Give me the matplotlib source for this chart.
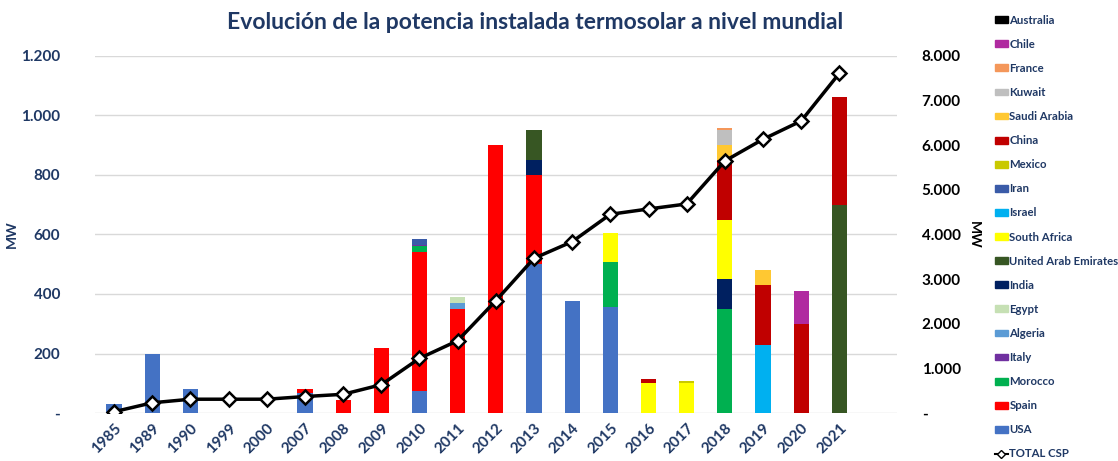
import matplotlib.pyplot as plt
import numpy as np
from matplotlib.patches import Patch
from matplotlib.lines import Line2D
from matplotlib.ticker import FuncFormatter

plt.rcParams['font.family'] = ['Lato', 'DejaVu Sans']
plt.rcParams['font.weight'] = 'bold'

years = ['1985', '1989', '1990', '1999', '2000', '2007', '2008', '2009', '2010', '2011',
         '2012', '2013', '2014', '2015', '2016', '2017', '2018', '2019', '2020', '2021']

# stacked from bottom to top (MW added per year)
usa          = [30, 200, 80, 0, 0, 66, 0, 0, 75, 0, 0, 500, 375, 356, 0, 0, 0, 0, 0, 0]
spain        = [0, 0, 0, 0, 0, 14, 45, 220, 466, 350, 900, 300, 0, 0, 0, 0, 0, 0, 0, 0]
morocco      = [0, 0, 0, 0, 0, 0, 0, 0, 20, 0, 0, 0, 0, 150, 0, 0, 350, 0, 0, 0]
italy        = [0, 0, 0, 0, 0, 0, 0, 0, 5, 0, 0, 0, 0, 0, 0, 0, 0, 0, 0, 0]
algeria      = [0, 0, 0, 0, 0, 0, 0, 0, 0, 20, 0, 0, 0, 0, 0, 0, 0, 0, 0, 0]
egypt        = [0, 0, 0, 0, 0, 0, 0, 0, 0, 20, 0, 0, 0, 0, 0, 0, 0, 0, 0, 0]
india        = [0, 0, 0, 0, 0, 0, 0, 0, 0, 0, 0, 50, 0, 0, 0, 0, 100, 0, 0, 0]
uae          = [0, 0, 0, 0, 0, 0, 0, 0, 0, 0, 0, 100, 0, 0, 0, 0, 0, 0, 0, 700]
south_africa = [0, 0, 0, 0, 0, 0, 0, 0, 0, 0, 0, 0, 0, 100, 100, 100, 200, 0, 0, 0]
israel       = [0, 0, 0, 0, 0, 0, 0, 0, 0, 0, 0, 0, 0, 0, 0, 0, 0, 230, 0, 0]
iran         = [0, 0, 0, 0, 0, 0, 0, 0, 17, 0, 0, 0, 0, 0, 0, 0, 0, 0, 0, 0]
mexico       = [0, 0, 0, 0, 0, 0, 0, 0, 0, 0, 0, 0, 0, 0, 0, 8, 0, 0, 0, 0]
china        = [0, 0, 0, 0, 0, 0, 0, 0, 0, 0, 0, 0, 0, 0, 15, 0, 200, 200, 300, 363]
saudi_arabia = [0, 0, 0, 0, 0, 0, 0, 0, 0, 0, 0, 0, 0, 0, 0, 0, 50, 50, 0, 0]
kuwait       = [0, 0, 0, 0, 0, 0, 0, 0, 0, 0, 0, 0, 0, 0, 0, 0, 50, 0, 0, 0]
france       = [0, 0, 0, 0, 0, 0, 0, 0, 0, 0, 0, 0, 0, 0, 0, 0, 9, 0, 0, 0]
chile        = [0, 0, 0, 0, 0, 0, 0, 0, 0, 0, 0, 0, 0, 0, 0, 0, 0, 0, 110, 0]
australia    = [0] * 20

total_csp = [30, 230, 310, 310, 310, 370, 420, 635, 1225, 1620,
             2516, 3465, 3838, 4451, 4570, 4682, 5645, 6131, 6541, 7609]

series = [
    ('USA', usa, '#4472C4'),
    ('Spain', spain, '#FF0000'),
    ('Morocco', morocco, '#00B050'),
    ('Italy', italy, '#7030A0'),
    ('Algeria', algeria, '#5B9BD5'),
    ('Egypt', egypt, '#C6E0B4'),
    ('India', india, '#002060'),
    ('United Arab Emirates', uae, '#375623'),
    ('South Africa', south_africa, '#FFFF00'),
    ('Israel', israel, '#00B0F0'),
    ('Iran', iran, '#3A5BA8'),
    ('Mexico', mexico, '#C9C900'),
    ('China', china, '#C00000'),
    ('Saudi Arabia', saudi_arabia, '#FFC832'),
    ('Kuwait', kuwait, '#BFBFBF'),
    ('France', france, '#F4975A'),
    ('Chile', chile, '#B02AA0'),
    ('Australia', australia, '#000000'),
]

navy = '#1F3864'

def fmt(v, p):
    return '-' if v == 0 else f'{int(v):,}'.replace(',', '.')

fig = plt.figure(figsize=(11.18, 4.61), dpi=100)
ax = fig.add_axes([0.085, 0.104, 0.717, 0.775])
x = np.arange(len(years))

bottom = np.zeros(len(years))
for name, vals, col in series:
    ax.bar(x, vals, 0.4, bottom=bottom, color=col, zorder=2)
    bottom += np.array(vals)

ax.set_xlim(-0.5, 20.5)
ax.set_ylim(0, 1200)
ax.set_yticks(range(0, 1201, 200))
ax.yaxis.set_major_formatter(FuncFormatter(fmt))
ax.set_xticks(x)
ax.set_xticklabels(years, rotation=45, ha='right', rotation_mode='anchor', color=navy, fontsize=11)
ax.tick_params(axis='y', colors=navy, labelsize=11, length=0, pad=25)
ax.tick_params(axis='x', length=0, pad=6)
ax.grid(axis='y', color='#D9D9D9', lw=1, zorder=0)
for s in ax.spines.values():
    s.set_visible(False)
ax.set_ylabel('MW', color=navy, fontsize=10, fontweight='bold')
ax.yaxis.set_label_coords(-0.096, 0.5)

ax2 = ax.twinx()
ax2.plot(x, total_csp, color='black', lw=2.5, marker='D', markersize=7.5,
         markerfacecolor='white', markeredgecolor='black', markeredgewidth=1.8, zorder=3)
ax2.set_ylim(0, 8000)
ax2.set_yticks(range(0, 8001, 1000))
ax2.yaxis.set_major_formatter(FuncFormatter(fmt))
ax2.tick_params(axis='y', colors='black', labelsize=11, length=0, pad=18)
for s in ax2.spines.values():
    s.set_visible(False)
ax2.set_ylabel('MW', color='black', fontsize=10, fontweight='bold', rotation=270, labelpad=14)

fig.text(0.479, 0.952, 'Evolución de la potencia instalada termosolar a nivel mundial',
         ha='center', va='center', fontsize=16.5, color=navy, fontweight='bold')

handles = [Patch(color=col) for name, vals, col in series[::-1]]
labels = [name for name, vals, col in series[::-1]]
handles.append(Line2D([], [], color='black', lw=1.5, marker='D', markersize=4,
                      markerfacecolor='white', markeredgecolor='black'))
labels.append('TOTAL CSP')
fig.legend(handles, labels, loc='upper left', bbox_to_anchor=(0.886, 0.978), frameon=False,
           fontsize=8.2, labelcolor=navy, handlelength=1.1, handleheight=0.55,
           handletextpad=0.15, labelspacing=1.15, borderaxespad=0)

fig.savefig('out.png', dpi=100)
